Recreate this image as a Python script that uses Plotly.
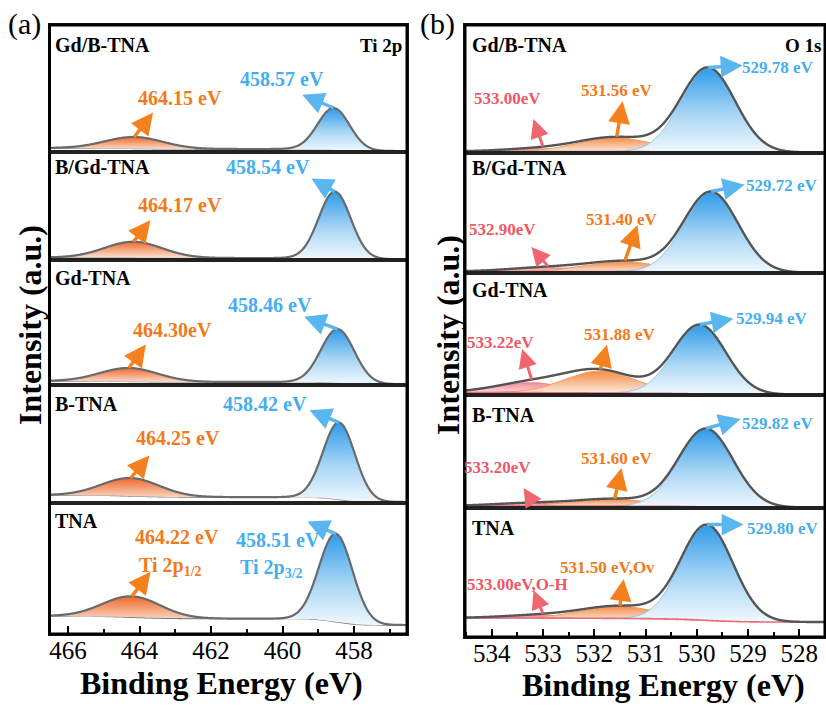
import numpy as np
import plotly.graph_objects as go

# ---------------- data ----------------
samples = ["Gd/B-TNA", "B/Gd-TNA", "Gd-TNA", "B-TNA", "TNA"]

# Ti 2p (panel a)
ti_p32_be = [458.57, 458.54, 458.46, 458.42, 458.51]
ti_p12_be = [464.15, 464.17, 464.30, 464.25, 464.22]
ti_p32_height = [42, 67, 54, 77, 88]
ti_p12_height = [11.5, 16, 13.5, 18, 21]
ti_p32_fwhm = [1.05, 1.05, 1.1, 1.05, 1.1]
ti_p12_fwhm = [1.9, 1.9, 1.9, 1.9, 1.9]
ti_bg_low = [1.0, 0.8, 0.8, 1.0, 9.0]
ti_bg_high = [4.0, 2.5, 4.0, 8.0, 18.0]
ti_ticks = [466, 464, 462, 460, 458]

# O 1s (panel b)
o_lat_be = [529.78, 529.72, 529.94, 529.82, 529.80]
o_ov_be = [531.56, 531.40, 531.88, 531.60, 531.50]
o_oh_be = [533.00, 532.90, 533.22, 533.20, 533.00]
o_lat_height = [84, 80, 69, 78, 95]
o_ov_height = [14, 10, 22, 7, 12]
o_oh_height = [3, 4, 10, 3, 3]
o_lat_fwhm = [1.25, 1.25, 1.2, 1.25, 1.2]
o_ov_fwhm = [1.7, 1.7, 1.6, 1.7, 1.7]
o_oh_fwhm = [1.8, 1.8, 1.7, 1.8, 1.8]
o_bg_low = [0.6, 0.4, 0.5, 0.5, 15.0]
o_bg_high = [1.5, 1.5, 2.5, 2.0, 19.0]
o_ticks = [534, 533, 532, 531, 530, 529, 528]

# ---------------- layout constants ----------------
FW, FH = 826, 709
def pxx(p): return p / FW
def pxy(p): return 1 - p / FH

left_x = (49.5, 407)
right_x = (465, 825)
left_rows = [(25, 152), (152, 260), (260, 385), (385, 503), (503, 634)]
right_rows = [(25, 153), (153, 273), (273, 395), (395, 508), (508, 637)]
ti_range = [466.52, 456.52]
o_range = [534.52, 527.5]

SERIF = "Liberation Serif"
BLUE_T = "#45AEEE"
ORANGE_T = "#F07A1C"
PINK_T = "#EE5766"
BLUE_A = "#5AB6EE"
ORANGE_A = "#F5801E"
PINK_A = "#EE6670"

cs_blue = [[0, "rgba(240,248,254,1)"], [0.45, "#A9D6F5"], [1, "#2F9BE9"]]
cs_orange = [[0, "rgba(253,236,228,1)"], [1, "#EF6B2B"]]
cs_orange_o = [[0, "rgba(253,238,228,1)"], [1, "#F58C48"]]
cs_pink = [[0, "rgba(253,236,238,1)"], [1, "#F08A96"]]


def gauss(x, c, h, fwhm):
    s = fwhm / 2.3548
    return h * np.exp(-0.5 * ((x - c) / s) ** 2)


def shirley(x, total, lo, hi):
    cum = np.concatenate([[0.0], np.cumsum((total[1:] + total[:-1]) / 2 * np.diff(x))])
    return lo + (hi - lo) * cum / cum[-1]


def ax_id(k):
    return ("x" if k == 1 else f"x{k}"), ("y" if k == 1 else f"y{k}")


fig = go.Figure()
annotations = []


def add_fill(k, x, base, comp, cs, line_color=None, line_width=1.0):
    xa, ya = ax_id(k)
    xs = np.concatenate([x, x[::-1]])
    ys = np.concatenate([base + comp, base[::-1]])
    fig.add_trace(go.Scatter(x=xs, y=ys, xaxis=xa, yaxis=ya, mode="lines",
                             fill="toself",
                             fillgradient=dict(type="vertical", colorscale=cs),
                             line=dict(width=0), hoverinfo="skip", showlegend=False))
    if line_color:
        fig.add_trace(go.Scatter(x=x, y=base + comp, xaxis=xa, yaxis=ya, mode="lines",
                                 line=dict(color=line_color, width=line_width),
                                 hoverinfo="skip", showlegend=False))


def add_line(k, x, y, color, width):
    xa, ya = ax_id(k)
    fig.add_trace(go.Scatter(x=x, y=y, xaxis=xa, yaxis=ya, mode="lines",
                             line=dict(color=color, width=width, shape="spline"),
                             hoverinfo="skip", showlegend=False))


def arrow(k, xc, yc, dx, dy, color, width=3.5, size=1.25):
    xa, ya = ax_id(k)
    annotations.append(dict(x=xc, y=yc, xref=xa, yref=ya, ax=dx, ay=dy,
                            text="", showarrow=True, arrowside="start",
                            startarrowhead=2, startarrowsize=size, arrowwidth=width,
                            arrowcolor=color, standoff=0, startstandoff=0))


def label(text, x, y, color, size, xanchor="center", bold=True, yanchor="middle"):
    annotations.append(dict(x=pxx(x), y=pxy(y), xref="paper", yref="paper",
                            text=(f"<b>{text}</b>" if bold else text), showarrow=False,
                            xanchor=xanchor, yanchor=yanchor,
                            font=dict(family=SERIF, size=size, color=color)))


layout_axes = {}

# ---------- panel (a): Ti 2p ----------
xg = np.linspace(456.4, 466.6, 700)
ti_arrow_off = [((20, -26), (-33, -14)), ((18, -23), (-25, -14)), ((18, -25), (-35, -13)),
                ((20, -24), (-31, -13)), ((20, -26), (-30, -13))]
for i in range(5):
    k = i + 1
    g32 = gauss(xg, ti_p32_be[i], ti_p32_height[i], ti_p32_fwhm[i])
    g12 = gauss(xg, ti_p12_be[i], ti_p12_height[i], ti_p12_fwhm[i])
    tot = g32 + g12
    bg = shirley(xg, tot, ti_bg_low[i], ti_bg_high[i])
    add_line(k, xg, bg, "#7A7A7A", 1.3)
    add_fill(k, xg, bg, g12, cs_orange)
    add_fill(k, xg, bg, g32, cs_blue)
    add_line(k, xg, bg + tot, "#6A6A6A", 2.2)
    top, bot = left_rows[i]
    last = (i == 4)
    layout_axes["xaxis" if k == 1 else f"xaxis{k}"] = dict(
        domain=[pxx(left_x[0]), pxx(left_x[1])], range=ti_range, anchor=ax_id(k)[1],
        showline=True, mirror=True, linecolor="#222", linewidth=2,
        showgrid=False, zeroline=False,
        ticks="inside" if last else "", tickvals=ti_ticks if last else [],
        ticklen=8, tickwidth=2, tickcolor="black",
        showticklabels=last, ticklabelstandoff=-7,
        tickfont=dict(family=SERIF, size=25, color="black"),
        minor=dict(ticks="inside" if last else "", dtick=1, ticklen=5, tickwidth=2, tickcolor="black",
                   showgrid=False),
    )
    layout_axes["yaxis" if k == 1 else f"yaxis{k}"] = dict(
        domain=[pxy(bot), pxy(top)], range=[0, bot - top], anchor=ax_id(k)[0],
        showline=True, mirror=True, linecolor="#222", linewidth=2,
        showgrid=False, zeroline=False, showticklabels=False, ticks="",
    )
    ys12 = float(np.interp(ti_p12_be[i], xg, bg + tot))
    ys32 = float(np.interp(ti_p32_be[i], xg, bg + tot))
    (odx, ody), (bdx, bdy) = ti_arrow_off[i]
    arrow(k, ti_p12_be[i], ys12, odx, ody, ORANGE_A)
    arrow(k, ti_p32_be[i], ys32, bdx, bdy, BLUE_A)

ti_sample_y = [45, 167, 278, 404, 521]
ti_blue_lab = [(282, 79), (268, 167), (270, 305), (265, 404), (278, 540)]
ti_orange_lab = [(180, 98), (180, 205), (172, 330), (178, 438), (177, 537)]
ti_orange_txt = ["464.15 eV", "464.17 eV", "464.30eV", "464.25 eV", "464.22 eV"]
ti_blue_txt = ["458.57 eV", "458.54 eV", "458.46 eV", "458.42 eV", "458.51 eV"]
for i in range(5):
    label(samples[i], 53, ti_sample_y[i], "black", 20, xanchor="left")
    label(ti_blue_txt[i], *ti_blue_lab[i], BLUE_T, 20)
    label(ti_orange_txt[i], *ti_orange_lab[i], ORANGE_T, 20)
label("Ti 2p", 404, 45, "black", 19, xanchor="right")
label("Ti 2p<sub>1/2</sub>", 137, 566, ORANGE_T, 20, xanchor="left")
label("Ti 2p<sub>3/2</sub>", 238, 568, BLUE_T, 20, xanchor="left")

# ---------- panel (b): O 1s ----------
xo = np.linspace(527.4, 534.6, 700)
o_arrow_off = [((36, -2), (6, -37), (-10, -29)), ((35, -7), (13, -37), (-18, -21)),
               ((35, -6), (7, -26), (-10, -32)), ((36, -10), (7, -32), (-10, -16)),
               ((38, 0), (4, -28), (-10, -25))]
for i in range(5):
    k = i + 6
    gl = gauss(xo, o_lat_be[i], o_lat_height[i], o_lat_fwhm[i])
    gv = gauss(xo, o_ov_be[i], o_ov_height[i], o_ov_fwhm[i])
    gh = gauss(xo, o_oh_be[i], o_oh_height[i], o_oh_fwhm[i])
    tot = gl + gv + gh
    bg = shirley(xo, tot, o_bg_low[i], o_bg_high[i])
    add_fill(k, xo, bg, gh, cs_pink, "#F08A94", 1.0)
    add_fill(k, xo, bg, gv, cs_orange_o, "#F59A5A", 1.0)
    add_fill(k, xo, bg, gl, cs_blue, "#8CCAF0", 1.0)
    add_line(k, xo, bg, "#EE6A78", 1.6)
    add_line(k, xo, bg + tot, "#555555", 2.4)
    top, bot = right_rows[i]
    last = (i == 4)
    layout_axes[f"xaxis{k}"] = dict(
        domain=[pxx(right_x[0]), pxx(right_x[1])], range=o_range, anchor=f"y{k}",
        showline=True, mirror=True, linecolor="#222", linewidth=2,
        showgrid=False, zeroline=False,
        ticks="inside" if last else "", tickvals=o_ticks if last else [],
        ticklen=8, tickwidth=2, tickcolor="black",
        showticklabels=last, ticklabelstandoff=-7,
        tickfont=dict(family=SERIF, size=25, color="black"),
        minor=dict(ticks="inside" if last else "", dtick=0.5, ticklen=5, tickwidth=2, tickcolor="black",
                   showgrid=False),
    )
    layout_axes[f"yaxis{k}"] = dict(
        domain=[pxy(bot), pxy(top)], range=[0, bot - top], anchor=f"x{k}",
        showline=True, mirror=True, linecolor="#222", linewidth=2,
        showgrid=False, zeroline=False, showticklabels=False, ticks="",
    )
    env = bg + tot
    (bdx, bdy), (odx, ody), (pdx, pdy) = o_arrow_off[i]
    arrow(k, o_lat_be[i], float(np.interp(o_lat_be[i], xo, env)), bdx, bdy, BLUE_A)
    arrow(k, o_ov_be[i], float(np.interp(o_ov_be[i], xo, env)), odx, ody, ORANGE_A)
    arrow(k, o_oh_be[i], float(np.interp(o_oh_be[i], xo, env)), pdx, pdy, PINK_A, width=3)

o_sample_y = [45, 168, 290, 415, 528]
o_blue_lab = [(778, 68), (782, 185), (772, 318), (778, 423), (783, 528)]
o_orange_lab = [(617, 90), (622, 220), (620, 335), (617, 458), (607, 567)]
o_pink_lab = [(507, 98), (502, 230), (500, 342), (498, 467), (517, 584)]
o_blue_txt = ["529.78 eV", "529.72 eV", "529.94 eV", "529.82 eV", "529.80 eV"]
o_orange_txt = ["531.56 eV", "531.40 eV", "531.88 eV", "531.60 eV", "531.50 eV,Ov"]
o_pink_txt = ["533.00eV", "532.90eV", "533.22eV", "533.20eV", "533.00eV,O-H"]
for i in range(5):
    label(samples[i], 470, o_sample_y[i], "black", 20, xanchor="left")
    label(o_blue_txt[i], *o_blue_lab[i], BLUE_T, 17)
    label(o_orange_txt[i], *o_orange_lab[i], ORANGE_T, 17)
    label(o_pink_txt[i], *o_pink_lab[i], PINK_T, 17)
label("O 1s", 823, 45, "black", 19, xanchor="right")

# panel letters and axis titles
label("(a)", 24, 24, "black", 30, bold=False)
label("(b)", 437, 24, "black", 30, bold=False)
label("Binding Energy (eV)", 222, 683, "black", 32)
label("Binding Energy (eV)", 663, 685, "black", 32)
annotations.append(dict(x=pxx(30), y=pxy(325), xref="paper", yref="paper", text="<b>Intensity (a.u.)</b>",
                        showarrow=False, textangle=-90, xanchor="center", yanchor="middle",
                        font=dict(family=SERIF, size=32, color="black")))
annotations.append(dict(x=pxx(448), y=pxy(335), xref="paper", yref="paper", text="<b>Intensity (a.u.)</b>",
                        showarrow=False, textangle=-90, xanchor="center", yanchor="middle",
                        font=dict(family=SERIF, size=32, color="black")))

shapes = [
    dict(type="rect", xref="paper", yref="paper", x0=pxx(left_x[0]), x1=pxx(left_x[1]),
         y0=pxy(left_rows[-1][1]), y1=pxy(left_rows[0][0]), line=dict(color="black", width=3), layer="above"),
    dict(type="rect", xref="paper", yref="paper", x0=pxx(right_x[0]), x1=pxx(right_x[1]),
         y0=pxy(right_rows[-1][1]), y1=pxy(right_rows[0][0]), line=dict(color="black", width=3), layer="above"),
]

fig.update_layout(
    template="none",
    width=FW, height=FH,
    margin=dict(l=0, r=0, t=0, b=0),
    paper_bgcolor="white", plot_bgcolor="white",
    showlegend=False,
    annotations=annotations,
    shapes=shapes,
    font=dict(family=SERIF),
    **layout_axes,
)

fig.write_html("out.html", config={"displayModeBar": False})
